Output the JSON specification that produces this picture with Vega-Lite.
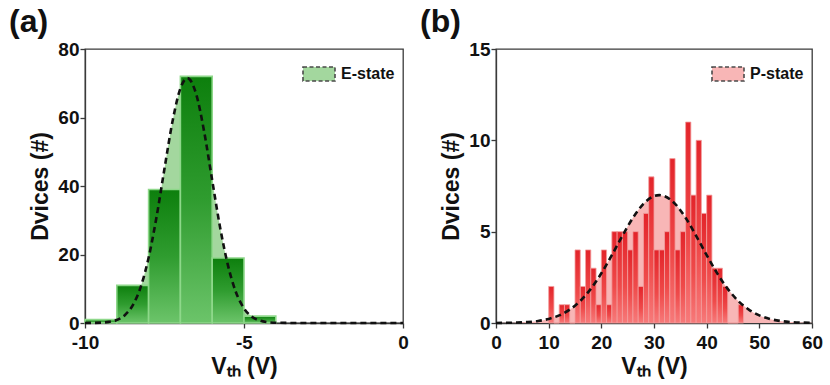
{
  "$schema": "https://vega.github.io/schema/vega-lite/v6.json",
  "background": "white",
  "padding": {"left": 8, "top": 5, "right": 10, "bottom": 2},
  "datasets": {
    "histE": [
      {"lo": -10, "hi": -9, "n": 1},
      {"lo": -9, "hi": -8, "n": 11},
      {"lo": -8, "hi": -7, "n": 39},
      {"lo": -7, "hi": -6, "n": 72},
      {"lo": -6, "hi": -5, "n": 19},
      {"lo": -5, "hi": -4, "n": 2}
    ],
    "fitE": [
      {"v": -10, "g": 0.01}, {"v": -9.5, "g": 0.1}, {"v": -9.25, "g": 0.32},
      {"v": -9, "g": 0.89}, {"v": -8.75, "g": 2.27}, {"v": -8.5, "g": 5.16},
      {"v": -8.25, "g": 10.47}, {"v": -8, "g": 19.05}, {"v": -7.75, "g": 30.98},
      {"v": -7.5, "g": 45.1}, {"v": -7.25, "g": 58.75}, {"v": -7, "g": 68.49},
      {"v": -6.78, "g": 71.5}, {"v": -6.5, "g": 66.69}, {"v": -6.25, "g": 55.71},
      {"v": -6, "g": 41.64}, {"v": -5.75, "g": 27.84}, {"v": -5.5, "g": 16.67},
      {"v": -5.25, "g": 8.92}, {"v": -5, "g": 4.28}, {"v": -4.75, "g": 1.83},
      {"v": -4.5, "g": 0.7}, {"v": -4.25, "g": 0.24}, {"v": -4, "g": 0.07},
      {"v": -3, "g": 0}, {"v": -2, "g": 0}, {"v": -1, "g": 0}, {"v": 0, "g": 0}
    ],
    "histP": [
      {"lo": 10, "hi": 11, "n": 2}, {"lo": 11, "hi": 12, "n": 0}, {"lo": 12, "hi": 13, "n": 1},
      {"lo": 13, "hi": 14, "n": 1}, {"lo": 14, "hi": 15, "n": 0}, {"lo": 15, "hi": 16, "n": 4},
      {"lo": 16, "hi": 17, "n": 2}, {"lo": 17, "hi": 18, "n": 4}, {"lo": 18, "hi": 19, "n": 3},
      {"lo": 19, "hi": 20, "n": 1}, {"lo": 20, "hi": 21, "n": 4}, {"lo": 21, "hi": 22, "n": 1},
      {"lo": 22, "hi": 23, "n": 5}, {"lo": 23, "hi": 24, "n": 5}, {"lo": 24, "hi": 25, "n": 5},
      {"lo": 25, "hi": 26, "n": 4}, {"lo": 26, "hi": 27, "n": 5}, {"lo": 27, "hi": 28, "n": 2},
      {"lo": 28, "hi": 29, "n": 6}, {"lo": 29, "hi": 30, "n": 8}, {"lo": 30, "hi": 31, "n": 4},
      {"lo": 31, "hi": 32, "n": 4}, {"lo": 32, "hi": 33, "n": 5}, {"lo": 33, "hi": 34, "n": 9},
      {"lo": 34, "hi": 35, "n": 4}, {"lo": 35, "hi": 36, "n": 5}, {"lo": 36, "hi": 37, "n": 11},
      {"lo": 37, "hi": 38, "n": 7}, {"lo": 38, "hi": 39, "n": 10}, {"lo": 39, "hi": 40, "n": 6},
      {"lo": 40, "hi": 41, "n": 7}, {"lo": 41, "hi": 42, "n": 3}, {"lo": 42, "hi": 43, "n": 3},
      {"lo": 43, "hi": 44, "n": 2}, {"lo": 44, "hi": 45, "n": 0}, {"lo": 45, "hi": 46, "n": 0},
      {"lo": 46, "hi": 47, "n": 1}
    ],
    "fitP": [
      {"v": 0, "g": 0.004}, {"v": 2, "g": 0.01}, {"v": 4, "g": 0.024}, {"v": 6, "g": 0.053},
      {"v": 8, "g": 0.112}, {"v": 10, "g": 0.223}, {"v": 12, "g": 0.417}, {"v": 14, "g": 0.732},
      {"v": 16, "g": 1.207}, {"v": 18, "g": 1.87}, {"v": 20, "g": 2.72}, {"v": 22, "g": 3.717},
      {"v": 24, "g": 4.773}, {"v": 26, "g": 5.758}, {"v": 28, "g": 6.525}, {"v": 30, "g": 6.945},
      {"v": 31, "g": 7.0}, {"v": 32, "g": 6.945}, {"v": 34, "g": 6.525}, {"v": 36, "g": 5.758},
      {"v": 38, "g": 4.773}, {"v": 40, "g": 3.717}, {"v": 42, "g": 2.72}, {"v": 44, "g": 1.87},
      {"v": 46, "g": 1.207}, {"v": 48, "g": 0.732}, {"v": 50, "g": 0.417}, {"v": 52, "g": 0.223},
      {"v": 54, "g": 0.112}, {"v": 56, "g": 0.053}, {"v": 58, "g": 0.024}, {"v": 60, "g": 0.01}
    ]
  },
  "config": {
    "font": "Liberation Sans",
    "view": {"stroke": "#3a3a3a", "strokeWidth": 1.3},
    "concat": {"spacing": 10},
    "axis": {
      "grid": false,
      "labelFont": "Liberation Sans", "labelFontWeight": "bold", "labelFontSize": 19, "labelColor": "#111",
      "titleFont": "Liberation Sans", "titleFontWeight": "bold", "titleFontSize": 23, "titleColor": "#111",
      "domainColor": "#3a3a3a", "domainWidth": 1.3, "tickColor": "#3a3a3a", "tickWidth": 1.3,
      "tickSize": 5, "labelPadding": 1, "labelFlush": false
    },
    "axisY": {"titlePadding": 5},
    "axisX": {"titlePadding": 3, "labelPadding": 5},
    "legend": {
      "title": null, "orient": "top-right", "offset": 8, "padding": 0,
      "labelFont": "Liberation Sans", "labelFontWeight": "bold", "labelFontSize": 16, "labelColor": "#111",
      "labelOffset": 5,
      "symbolType": "M-1,-0.44L1,-0.44L1,0.44L-1,0.44Z", "symbolSize": 1024,
      "symbolStrokeColor": "#4a4a4a", "symbolStrokeWidth": 1.6, "symbolDash": [4, 2.5], "symbolOpacity": 1
    },
    "title": {
      "anchor": "start", "frame": "group", "font": "Liberation Sans", "fontSize": 32,
      "fontWeight": "bold", "color": "#111", "dx": -76, "offset": 1
    }
  },
  "resolve": {
    "scale": {"x": "independent", "y": "independent", "color": "independent"},
    "legend": {"color": "independent"}
  },
  "hconcat": [
    {
      "width": 318,
      "height": 274,
      "title": "(a)",
      "layer": [
        {
          "data": {"name": "fitE"},
          "mark": {"type": "area", "interpolate": "monotone", "opacity": 1},
          "encoding": {
            "x": {"field": "v", "type": "quantitative", "scale": {"domain": [-10, 0], "nice": false},
                  "axis": {"values": [-10, -5, 0], "labelExpr": "datum.value + ''"}, "title": "Vₜₕ (V)"},
            "y": {"field": "g", "type": "quantitative", "scale": {"domain": [0, 80], "nice": false},
                  "axis": {"values": [0, 20, 40, 60, 80]}, "title": "Dvices (#)"},
            "color": {"datum": "E-state", "scale": {"range": ["#a3d79e"]}}
          }
        },
        {
          "data": {"name": "histE"},
          "mark": {
            "type": "bar", "stroke": "#8ed88a", "strokeWidth": 1.6,
            "fill": {"gradient": "linear", "x1": 0, "y1": 0, "x2": 0, "y2": 1,
                     "stops": [{"offset": 0, "color": "#0d7f0d"}, {"offset": 0.5, "color": "#2f9c2f"}, {"offset": 1, "color": "#6cc46a"}]}
          },
          "encoding": {
            "x": {"field": "lo", "type": "quantitative"},
            "x2": {"field": "hi"},
            "y": {"field": "n", "type": "quantitative"},
            "y2": {"datum": 0}
          }
        },
        {
          "data": {"name": "fitE"},
          "mark": {"type": "line", "interpolate": "monotone", "color": "#111", "strokeWidth": 2.6, "strokeDash": [6, 4]},
          "encoding": {
            "x": {"field": "v", "type": "quantitative"},
            "y": {"field": "g", "type": "quantitative"}
          }
        }
      ]
    },
    {
      "width": 316,
      "height": 274,
      "title": "(b)",
      "layer": [
        {
          "data": {"name": "fitP"},
          "mark": {"type": "area", "interpolate": "monotone", "opacity": 1},
          "encoding": {
            "x": {"field": "v", "type": "quantitative", "scale": {"domain": [0, 60], "nice": false},
                  "axis": {"values": [0, 10, 20, 30, 40, 50, 60]}, "title": "Vₜₕ (V)"},
            "y": {"field": "g", "type": "quantitative", "scale": {"domain": [0, 15], "nice": false},
                  "axis": {"values": [0, 5, 10, 15]}, "title": "Dvices (#)"},
            "color": {"datum": "P-state", "scale": {"range": ["#f8b6b6"]}}
          }
        },
        {
          "data": {"name": "histP"},
          "mark": {
            "type": "bar", "stroke": "#f3a0a0", "strokeWidth": 0.8,
            "fill": {"gradient": "linear", "x1": 0, "y1": 0, "x2": 0, "y2": 1,
                     "stops": [{"offset": 0, "color": "#e3242a"}, {"offset": 0.6, "color": "#ef4a4a"}, {"offset": 1, "color": "#f77a7a"}]}
          },
          "encoding": {
            "x": {"field": "lo", "type": "quantitative"},
            "x2": {"field": "hi"},
            "y": {"field": "n", "type": "quantitative"},
            "y2": {"datum": 0}
          }
        },
        {
          "data": {"name": "fitP"},
          "mark": {"type": "line", "interpolate": "monotone", "color": "#111", "strokeWidth": 2.6, "strokeDash": [6, 4]},
          "encoding": {
            "x": {"field": "v", "type": "quantitative"},
            "y": {"field": "g", "type": "quantitative"}
          }
        }
      ]
    }
  ]
}
